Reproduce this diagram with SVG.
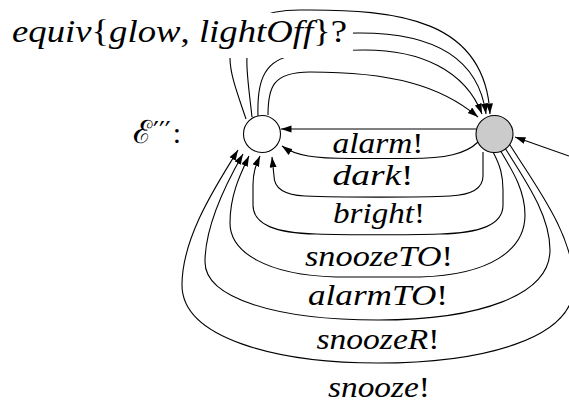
<svg xmlns="http://www.w3.org/2000/svg" width="569" height="405" viewBox="0 0 569 405">
<style>
.e{fill:none;stroke:#000;stroke-width:1.1}
.t{font-family:"Liberation Serif","Times New Roman",serif;font-style:italic;fill:#000}
.u{font-style:normal}
.n{stroke:#000;stroke-width:1.1}
</style>
<defs>
<marker id="a" markerUnits="userSpaceOnUse" markerWidth="11" markerHeight="8" refX="10.5" refY="3.5" orient="auto">
<path d="M0,0 L10.5,3.5 L0,7 z" fill="#000"/>
</marker>
</defs>
<g id="connectors" class="e" marker-end="url(#a)">
<path d="M268,115 C268,88 272,72 310,72 C390,72 440,85 478,117"/>
<path d="M258,116 C257,85 262,62 290,56 C310,51 335,50 365,50 C420,50 465,70 482,114"/>
<path d="M252,117 C249,90 246,70 247,58 C250,40 290,33 360,33 C430,33 478,55 486,114"/>
<path d="M246,119 C238,95 230,75 230,58 C230,25 260,10 300,10 C400,9 485,20 490,114"/>
<path d="M476,129 L281,129"/>
<path d="M478,142 C466,154 445,158.5 410,158.5 L350,158.5 C315,158.5 296,156 282,146"/>
<path d="M483,152 L483,176 C483,190 470,195 450,196 C420,197.5 340,197.5 305,196 C285,195 274,189 274,176 L272,157"/>
<path d="M493,152 C500,165 503,175 503,190 L503,205 C503,225 480,233 440,234 C410,235 346,235 316,234 C276,233 253,225 253,205 L253,185 C253,172 256,165 260,156"/>
<path d="M500,150 C512,170 525,190 525,215 C525,250 490,275 420,277 L336,277 C266,275 230,252 230,223 C230,195 240,175 249,156"/>
<path d="M505,148 C525,180 550,215 550,250 C550,295 480,320 378,320 C276,320 205,298 205,262 C205,225 228,180 243,154"/>
<path d="M510,145 C535,185 574,235 574,285 C574,340 480,363 378,363 C276,363 182,338 182,285 C182,235 220,180 238,150"/>
<path d="M569,156 L515,137"/>
</g>
<rect x="4" y="13" width="349" height="45" fill="#fff"/>
<g id="n_off"><circle class="n" cx="262" cy="134" r="18.5" fill="#fff"/></g>
<g id="n_on"><circle class="n" cx="494.5" cy="134" r="18.5" fill="#cbcbcb"/></g>
<g id="labels" class="t" font-size="30" text-anchor="middle">
<text x="12" y="42" font-size="31" text-anchor="start" textLength="335" lengthAdjust="spacingAndGlyphs">equiv<tspan class="u">{</tspan>glow<tspan class="u">,</tspan> lightOff<tspan class="u">}?</tspan></text>
<text x="378" y="153" textLength="91" lengthAdjust="spacingAndGlyphs">alarm<tspan class="u">!</tspan></text>
<text x="373" y="185" textLength="81" lengthAdjust="spacingAndGlyphs">dark<tspan class="u">!</tspan></text>
<text x="379" y="223" textLength="92" lengthAdjust="spacingAndGlyphs">bright<tspan class="u">!</tspan></text>
<text x="379" y="266" textLength="148" lengthAdjust="spacingAndGlyphs">snoozeTO<tspan class="u">!</tspan></text>
<text x="378" y="305" textLength="140" lengthAdjust="spacingAndGlyphs">alarmTO<tspan class="u">!</tspan></text>
<text x="378" y="349" textLength="123" lengthAdjust="spacingAndGlyphs">snoozeR<tspan class="u">!</tspan></text>
<text x="379" y="397" textLength="102" lengthAdjust="spacingAndGlyphs">snooze<tspan class="u">!</tspan></text>
</g>
<g id="env_label">
<text x="133" y="143" font-size="32" style="font-family:'DejaVu Serif',serif;font-style:normal">ℰ<tspan font-size="26" style="font-family:'DejaVu Sans',sans-serif" dx="1" dy="-2">′′′</tspan><tspan font-size="30" style="font-family:'Liberation Serif',serif" dx="2" dy="2">:</tspan></text>
</g>
</svg>
